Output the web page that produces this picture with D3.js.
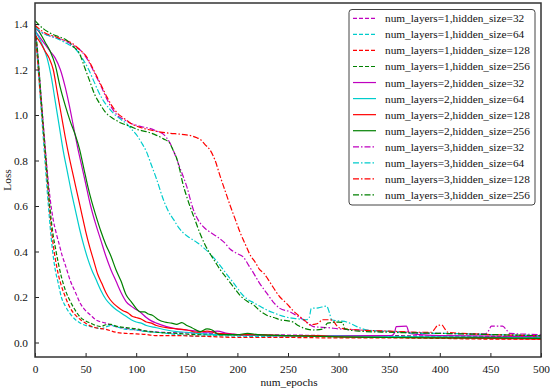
<!DOCTYPE html>
<html><head><meta charset="utf-8">
<script src="https://cdn.jsdelivr.net/npm/d3@7"></script>
<style>
html,body{margin:0;padding:0;background:#fff;}
svg{display:block;}
svg text{font-family:"Liberation Serif","Times New Roman",Tinos,serif !important;}
</style></head>
<body><svg id="c" width="550" height="390"></svg>
<script>
// ---- data: [epoch, loss] ----
const xTicks = [0,50,100,150,200,250,300,350,400,450,500];
const yTicks = [0.0,0.2,0.4,0.6,0.8,1.0,1.2,1.4];
const labels = ["num_layers=1,hidden_size=32","num_layers=1,hidden_size=64","num_layers=1,hidden_size=128","num_layers=1,hidden_size=256",
"num_layers=2,hidden_size=32","num_layers=2,hidden_size=64","num_layers=2,hidden_size=128","num_layers=2,hidden_size=256",
"num_layers=3,hidden_size=32","num_layers=3,hidden_size=64","num_layers=3,hidden_size=128","num_layers=3,hidden_size=256"];

const l1_h32 = [[0,1.39],[3,1.25],[6,1.08],[9,0.92],[12,0.76],[15,0.63],[18,0.54],[21,0.48],[24,0.43],[27,0.38],[30,0.34],[35,0.27],[40,0.22],[45,0.17],[50,0.14],[55,0.12],[60,0.10],[70,0.085],[80,0.07],[90,0.062],[100,0.055],[110,0.05],[125,0.045],[150,0.042],[175,0.04],[200,0.035],[250,0.033],[300,0.03],[350,0.03],[400,0.028],[450,0.027],[500,0.026]];
const l1_h64 = [[0,1.38],[2,1.27],[4,1.15],[6,1.03],[8,0.91],[10,0.79],[12,0.67],[14,0.56],[16,0.46],[18,0.38],[20,0.32],[23,0.26],[26,0.20],[30,0.16],[35,0.125],[40,0.10],[45,0.085],[50,0.075],[55,0.07],[60,0.065],[65,0.06],[70,0.068],[75,0.075],[80,0.07],[90,0.058],[100,0.055],[110,0.048],[120,0.045],[140,0.035],[160,0.028],[180,0.03],[200,0.028],[250,0.025],[300,0.027],[350,0.025],[400,0.022],[450,0.02],[500,0.02]];
const l1_h128 = [[0,1.37],[2,1.27],[4,1.16],[6,1.05],[8,0.94],[10,0.83],[12,0.72],[14,0.61],[16,0.51],[18,0.43],[20,0.37],[23,0.30],[26,0.25],[30,0.20],[35,0.15],[40,0.12],[45,0.10],[50,0.085],[55,0.072],[60,0.065],[70,0.058],[80,0.045],[90,0.04],[100,0.038],[110,0.035],[120,0.03],[140,0.03],[160,0.028],[180,0.025],[200,0.022],[250,0.022],[300,0.02],[350,0.02],[400,0.018],[450,0.015],[500,0.015]];
const l1_h256 = [[0,1.40],[2,1.31],[4,1.20],[6,1.08],[8,0.96],[10,0.85],[12,0.74],[14,0.63],[16,0.54],[18,0.47],[20,0.42],[23,0.35],[26,0.29],[30,0.23],[35,0.18],[40,0.14],[45,0.11],[50,0.095],[55,0.085],[60,0.075],[65,0.07],[70,0.078],[75,0.08],[80,0.072],[90,0.065],[100,0.06],[110,0.05],[120,0.045],[140,0.04],[160,0.035],[180,0.035],[200,0.033],[250,0.03],[300,0.03],[350,0.028],[400,0.025],[450,0.025],[500,0.022]];

const l2_h32 = [[0,1.37],[5,1.34],[10,1.31],[15,1.28],[20,1.25],[25,1.20],[30,1.12],[34,1.04],[38,0.95],[42,0.86],[46,0.78],[50,0.70],[55,0.60],[60,0.52],[65,0.45],[70,0.38],[75,0.32],[80,0.27],[85,0.22],[90,0.18],[95,0.16],[100,0.145],[105,0.13],[110,0.11],[115,0.095],[120,0.085],[130,0.07],[140,0.06],[150,0.055],[160,0.05],[170,0.045],[180,0.05],[190,0.04],[200,0.035],[250,0.03],[300,0.03],[352,0.03],[355,0.04],[357,0.07],[367,0.072],[370,0.04],[400,0.03],[450,0.028],[500,0.025]];
const l2_h64 = [[0,1.37],[4,1.34],[8,1.30],[12,1.25],[16,1.17],[20,1.06],[24,0.95],[28,0.84],[32,0.75],[36,0.66],[40,0.58],[44,0.50],[48,0.43],[52,0.37],[56,0.32],[60,0.28],[65,0.23],[70,0.19],[75,0.165],[80,0.145],[85,0.13],[90,0.115],[95,0.10],[100,0.09],[105,0.085],[110,0.075],[120,0.065],[130,0.055],[140,0.048],[150,0.045],[160,0.04],[180,0.035],[200,0.035],[250,0.03],[300,0.028],[350,0.025],[400,0.025],[450,0.022],[500,0.02]];
const l2_h128 = [[0,1.35],[5,1.32],[10,1.28],[14,1.25],[18,1.20],[22,1.10],[26,1.00],[30,0.90],[34,0.81],[38,0.73],[42,0.65],[46,0.57],[50,0.49],[54,0.42],[58,0.36],[62,0.30],[66,0.26],[70,0.22],[74,0.19],[78,0.17],[82,0.155],[87,0.14],[92,0.13],[96,0.115],[100,0.11],[104,0.105],[110,0.09],[115,0.085],[120,0.075],[130,0.065],[140,0.06],[150,0.055],[160,0.045],[170,0.05],[180,0.04],[200,0.035],[220,0.035],[250,0.03],[280,0.03],[300,0.025],[350,0.022],[400,0.02],[450,0.018],[500,0.015]];
const l2_h256 = [[0,1.39],[5,1.36],[10,1.32],[15,1.28],[20,1.22],[25,1.12],[30,1.04],[35,0.97],[40,0.91],[44,0.85],[48,0.77],[52,0.69],[56,0.62],[60,0.56],[65,0.49],[70,0.43],[75,0.38],[80,0.32],[85,0.27],[90,0.21],[95,0.18],[100,0.15],[104,0.135],[108,0.135],[112,0.125],[116,0.12],[122,0.10],[128,0.09],[135,0.085],[140,0.08],[145,0.087],[150,0.075],[155,0.065],[163,0.048],[170,0.06],[175,0.055],[182,0.035],[200,0.035],[210,0.04],[220,0.035],[250,0.03],[300,0.025],[350,0.022],[400,0.02],[450,0.02],[500,0.018]];

const l3_h32 = [[0,1.38],[10,1.355],[20,1.34],[30,1.325],[40,1.30],[46,1.28],[51,1.25],[56,1.21],[61,1.165],[66,1.12],[71,1.07],[76,1.03],[81,1.00],[88,0.98],[94,0.965],[104,0.95],[114,0.94],[120,0.93],[127,0.915],[133,0.88],[138,0.83],[143,0.77],[150,0.685],[156,0.59],[161,0.54],[166,0.51],[173,0.485],[180,0.465],[187,0.44],[193,0.41],[200,0.39],[206,0.375],[211,0.34],[216,0.305],[222,0.26],[229,0.217],[235,0.18],[242,0.15],[252,0.135],[258,0.12],[265,0.10],[270,0.085],[275,0.07],[290,0.065],[300,0.06],[320,0.055],[340,0.05],[370,0.045],[400,0.04],[445,0.038],[448,0.05],[451,0.072],[462,0.072],[466,0.055],[469,0.04],[500,0.035]];
const l3_h64 = [[0,1.385],[10,1.355],[20,1.34],[31,1.315],[40,1.29],[48,1.24],[53,1.20],[58,1.15],[63,1.10],[68,1.06],[73,1.03],[78,1.005],[85,0.98],[91,0.96],[96,0.935],[100,0.915],[105,0.88],[110,0.84],[115,0.78],[120,0.72],[127,0.626],[132,0.575],[137,0.54],[142,0.505],[147,0.48],[153,0.46],[160,0.44],[167,0.415],[173,0.39],[180,0.355],[186,0.32],[193,0.28],[199,0.245],[205,0.21],[210,0.19],[216,0.175],[222,0.16],[229,0.143],[236,0.13],[242,0.12],[250,0.11],[258,0.105],[268,0.10],[271,0.11],[273,0.15],[280,0.152],[288,0.16],[291,0.13],[293,0.10],[300,0.095],[308,0.09],[318,0.07],[328,0.055],[354,0.048],[380,0.04],[400,0.04],[450,0.035],[500,0.03]];
const l3_h128 = [[0,1.395],[10,1.36],[20,1.345],[28,1.33],[35,1.32],[41,1.30],[46,1.28],[51,1.256],[56,1.215],[61,1.17],[66,1.125],[71,1.08],[76,1.04],[81,1.01],[88,0.985],[94,0.965],[104,0.945],[114,0.934],[124,0.925],[133,0.92],[145,0.915],[155,0.908],[160,0.90],[164,0.89],[168,0.87],[173,0.846],[178,0.80],[183,0.73],[188,0.665],[193,0.60],[198,0.54],[203,0.48],[208,0.43],[212,0.39],[218,0.35],[222,0.32],[226,0.305],[230,0.28],[235,0.245],[242,0.20],[249,0.17],[255,0.14],[262,0.113],[267,0.095],[272,0.077],[276,0.08],[280,0.085],[284,0.10],[290,0.10],[294,0.098],[298,0.075],[301,0.064],[320,0.055],[350,0.05],[380,0.045],[392,0.045],[395,0.06],[398,0.075],[402,0.077],[405,0.06],[408,0.045],[450,0.035],[500,0.03]];
const l3_h256 = [[0,1.415],[8,1.38],[15,1.36],[23,1.345],[31,1.33],[38,1.30],[44,1.27],[49,1.21],[54,1.15],[59,1.09],[64,1.05],[70,1.01],[77,0.985],[85,0.965],[94,0.95],[102,0.935],[110,0.927],[118,0.915],[127,0.895],[133,0.877],[137,0.84],[140,0.81],[143,0.76],[146,0.70],[150,0.64],[153,0.60],[158,0.54],[163,0.48],[168,0.43],[173,0.39],[178,0.355],[183,0.32],[190,0.28],[196,0.245],[203,0.205],[210,0.18],[216,0.165],[222,0.14],[229,0.12],[236,0.11],[242,0.10],[250,0.095],[255,0.09],[260,0.075],[265,0.064],[275,0.055],[285,0.06],[289,0.085],[300,0.09],[304,0.088],[306,0.06],[320,0.05],[350,0.045],[400,0.04],[450,0.035],[500,0.03]];

const seriesData = [l1_h32,l1_h64,l1_h128,l1_h256,l2_h32,l2_h64,l2_h128,l2_h256,l3_h32,l3_h64,l3_h128,l3_h256];
const colors = ["#bf00bf","#00cccc","#ff0000","#008000"];
const dashes = ["4,2", null, "6,2,1.5,2"];

// ---- chart ----
const svg = d3.select("#c");
const L=35, R=541, T=3, B=357;
const x = d3.scaleLinear().domain([0,500]).range([L,R]);
const y = d3.scaleLinear().domain([0,1.4]).range([342.5,24]);

svg.append("defs").append("clipPath").attr("id","clip")
  .append("rect").attr("x",L).attr("y",T).attr("width",R-L).attr("height",B-T);

const line = d3.line().x(d=>x(d[0])).y(d=>y(d[1])).curve(d3.curveMonotoneX);
const g = svg.append("g").attr("clip-path","url(#clip)");
seriesData.forEach((s,i)=>{
  g.append("path").attr("d",line(s)).attr("fill","none")
   .attr("stroke",colors[i%4]).attr("stroke-width",1.2)
   .attr("stroke-dasharray",dashes[Math.floor(i/4)]);
});

// axes (inward ticks)
const fs = "11.3px";
const xAxis = d3.axisBottom(x).tickValues(xTicks).tickSize(-4).tickPadding(8).tickFormat(d3.format("d"));
const yAxis = d3.axisLeft(y).tickValues(yTicks).tickSize(-4).tickPadding(7).tickFormat(d3.format(".1f"));
const gx = svg.append("g").attr("transform",`translate(0,${B})`).call(xAxis);
const gy = svg.append("g").attr("transform",`translate(${L},0)`).call(yAxis);
[gx,gy].forEach(a=>{
  a.attr("font-family",null).attr("font-size",null);
  a.select(".domain").remove();
  a.selectAll("line").attr("stroke","#222").attr("stroke-width",1);
  a.selectAll("text").attr("font-size",fs).attr("fill","#111");
});
// frame
svg.append("rect").attr("x",L).attr("y",T).attr("width",R-L).attr("height",B-T)
  .attr("fill","none").attr("stroke","#333").attr("stroke-width",1.5);

svg.append("text").attr("x",(L+R)/2+1).attr("y",385.5).attr("text-anchor","middle")
  .attr("font-size",fs).attr("fill","#111").text("num_epochs");
svg.append("text").attr("transform",`translate(11,${(T+B)/2}) rotate(-90)`).attr("text-anchor","middle")
  .attr("font-size",fs).attr("fill","#111").text("Loss");

// legend
const lg = svg.append("g");
lg.append("rect").attr("x",349).attr("y",9.5).attr("width",186).attr("height",195.5).attr("rx",3)
  .attr("fill","#fff").attr("stroke","#444").attr("stroke-width",1);
labels.forEach((t,i)=>{
  const cy = 18.3 + i*16.06;
  lg.append("line").attr("x1",353).attr("x2",376).attr("y1",cy).attr("y2",cy)
    .attr("stroke",colors[i%4]).attr("stroke-width",1.2).attr("stroke-dasharray",dashes[Math.floor(i/4)]);
  lg.append("text").attr("x",385).attr("y",cy+4).attr("font-size",fs).attr("fill","#111").text(t);
});
svg.selectAll("text").style("font-family","'Liberation Serif','Times New Roman',serif");
</script></body></html>
